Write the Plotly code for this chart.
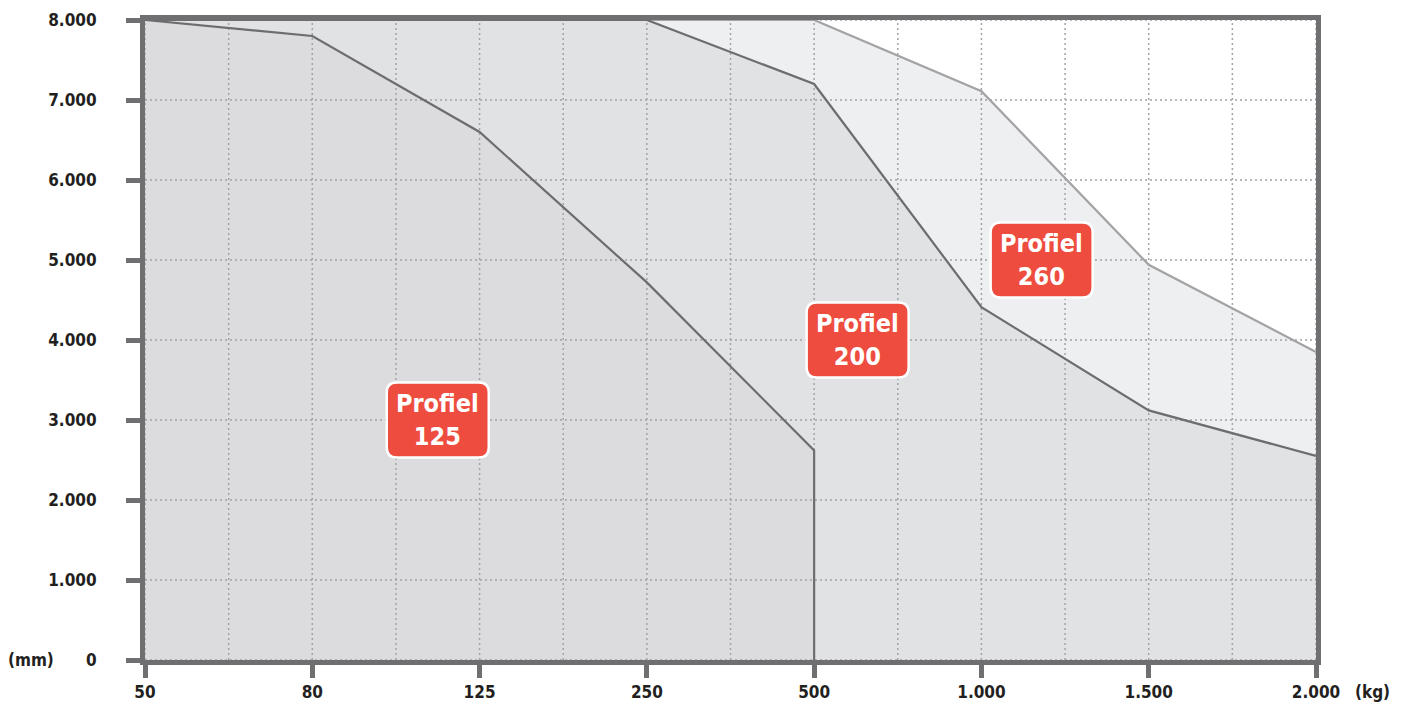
import plotly.graph_objects as go

# ---- data ----
x_labels = ["50", "80", "125", "250", "500", "1.000", "1.500", "2.000"]
y_ticks = [0, 1000, 2000, 3000, 4000, 5000, 6000, 7000, 8000]
y_tick_labels = ["0", "1.000", "2.000", "3.000", "4.000", "5.000", "6.000", "7.000", "8.000"]

p125_x = [0, 1, 2, 3, 4, 4]
p125_y = [8000, 7800, 6600, 4720, 2620, 0]

p200_x = [0, 3, 4, 5, 6, 7]
p200_y = [8000, 8000, 7200, 4410, 3120, 2550]

p260_x = [0, 4, 5, 6, 7]
p260_y = [8000, 8000, 7110, 4940, 3850]

labels = ["Profiel<br>125", "Profiel<br>200", "Profiel<br>260"]
label_x = [1.75, 4.26, 5.36]
label_y = [3000, 4000, 5000]

FONT = "DejaVu Sans Condensed, Liberation Sans Narrow, sans-serif"
FRAME = "#6f6f72"
GRID = "#a3a3a6"
RED = "#ee4c3e"

fig = go.Figure()

# fills (lightest first)
fig.add_trace(go.Scatter(x=p260_x, y=p260_y, fill="tozeroy", mode="none",
                         fillcolor="#eeeff1", hoverinfo="skip", showlegend=False))
fig.add_trace(go.Scatter(x=p200_x, y=p200_y, fill="tozeroy", mode="none",
                         fillcolor="#e1e2e4", hoverinfo="skip", showlegend=False))
fig.add_trace(go.Scatter(x=p125_x, y=p125_y, fill="tozeroy", mode="none",
                         fillcolor="#dcdcde", hoverinfo="skip", showlegend=False))

# grid lines drawn over the fills
n = len(x_labels)
gx, gy = [], []
for i in range(2 * (n - 1) + 1):
    xv = i * 0.5
    gx += [xv, xv, None]
    gy += [y_ticks[0], y_ticks[-1], None]
for yv in y_ticks:
    gx += [0, n - 1, None]
    gy += [yv, yv, None]
fig.add_trace(go.Scatter(x=gx, y=gy, mode="lines",
                         line=dict(color=GRID, width=1.5, dash="2px,3px"),
                         hoverinfo="skip", showlegend=False))

# outlines
fig.add_trace(go.Scatter(x=p260_x, y=p260_y, mode="lines",
                         line=dict(color="#a3a3a5", width=2.2), showlegend=False))
fig.add_trace(go.Scatter(x=p200_x, y=p200_y, mode="lines",
                         line=dict(color="#6d6d70", width=2.2), showlegend=False))
fig.add_trace(go.Scatter(x=p125_x, y=p125_y, mode="lines",
                         line=dict(color="#6d6d70", width=2.2), showlegend=False))

# red rounded label boxes
w2, h2, r = 51, 37.5, 10
path = (f"M {-w2+r},{-h2} L {w2-r},{-h2} Q {w2},{-h2} {w2},{-h2+r} "
        f"L {w2},{h2-r} Q {w2},{h2} {w2-r},{h2} L {-w2+r},{h2} "
        f"Q {-w2},{h2} {-w2},{h2-r} L {-w2},{-h2+r} Q {-w2},{-h2} {-w2+r},{-h2} Z")
for t, lx, ly in zip(labels, label_x, label_y):
    fig.add_shape(type="path", xref="x", yref="y", xsizemode="pixel", ysizemode="pixel",
                  xanchor=lx, yanchor=ly, path=path, fillcolor=RED,
                  line=dict(color="white", width=2.5), layer="above")
    fig.add_annotation(x=lx, y=ly, xref="x", yref="y", text=t, showarrow=False,
                       font=dict(family=FONT, size=25, color="white", weight="bold"),
                       align="center", xanchor="center", yanchor="middle")

# unit labels
fig.add_annotation(xref="paper", x=0, xshift=-114, yref="y", y=0, text="(mm)",
                   xanchor="center", yanchor="middle",
                   showarrow=False, font=dict(family=FONT, size=17, color="#231f20", weight="bold"))
fig.add_annotation(xref="x", x=n - 1, xshift=56, yref="paper", y=0, yshift=-32, text="(kg)",
                   xanchor="center", yanchor="middle",
                   showarrow=False, font=dict(family=FONT, size=17, color="#231f20", weight="bold"))

fig.update_xaxes(range=[0, n - 1], tickmode="array", tickvals=list(range(n)), ticktext=x_labels,
                 showgrid=False, zeroline=False, showline=True, mirror=True, automargin=False,
                 linewidth=5, linecolor=FRAME, ticks="outside", ticklen=13, tickwidth=5,
                 tickcolor=FRAME, tickfont=dict(family=FONT, size=17, color="#231f20", weight="bold"),
                 ticklabelstandoff=0)
fig.update_yaxes(range=[y_ticks[0], y_ticks[-1]], tickmode="array", tickvals=y_ticks,
                 ticktext=y_tick_labels, showgrid=False, zeroline=False, showline=True,
                 mirror=True, automargin=False, linewidth=5, linecolor=FRAME, ticks="outside",
                 ticklen=14, tickwidth=5, tickcolor=FRAME,
                 tickfont=dict(family=FONT, size=17, color="#231f20", weight="bold"),
                 ticklabelstandoff=26)

# page body has an 8px default margin: compensate in figure size and margins
fig.update_layout(width=1398, height=696, margin=dict(l=137, r=90, t=12, b=44),
                  plot_bgcolor="white", paper_bgcolor="white", showlegend=False)

fig.write_html("out.html")
